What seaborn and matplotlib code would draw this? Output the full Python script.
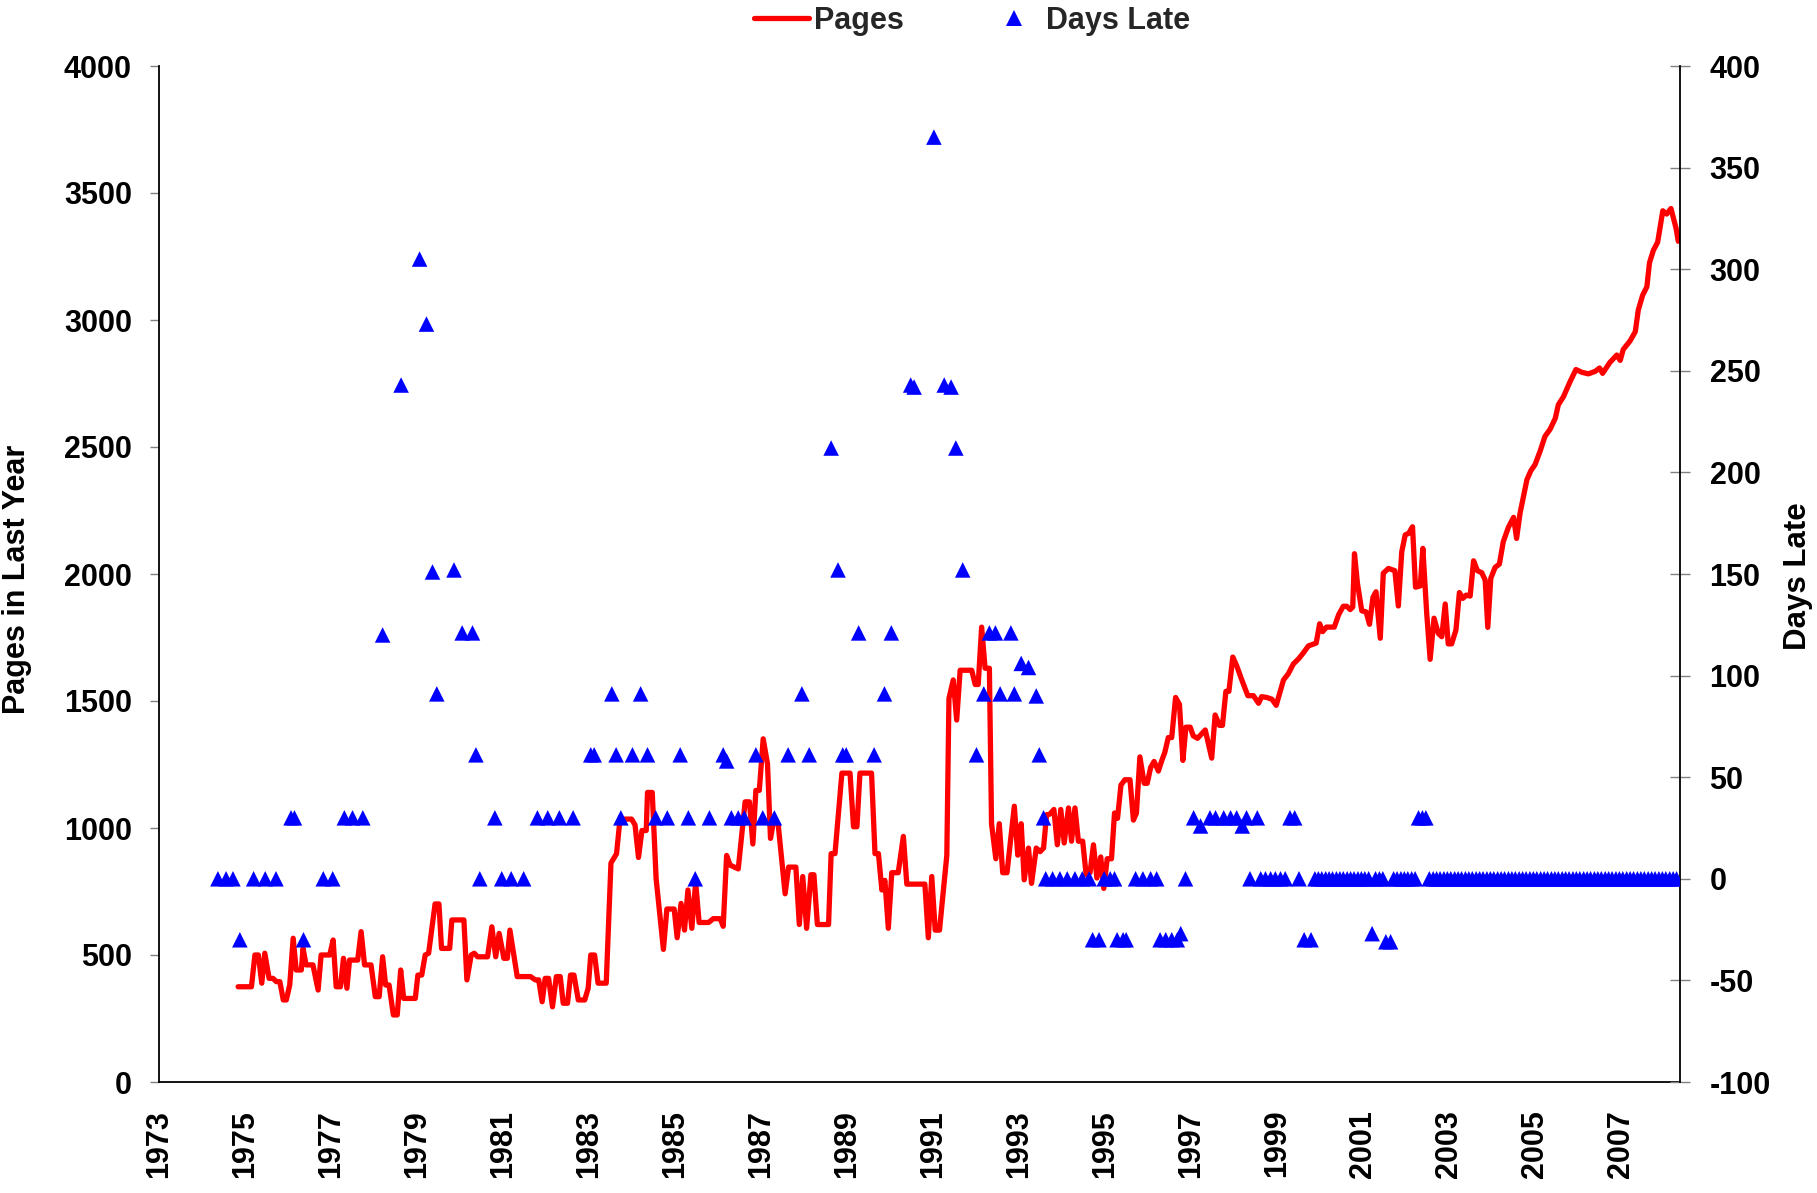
import matplotlib
matplotlib.use("Agg")
import matplotlib.pyplot as plt
from matplotlib.lines import Line2D
import numpy as np
import pandas as pd
import seaborn as sns

# ---------------- data: Pages in last year ----------------
pages_year_a = [1974.84, 1975.15, 1975.23, 1975.31, 1975.39, 1975.46, 1975.56, 1975.65, 1975.73, 1975.81,
                1975.89, 1975.96, 1976.04, 1976.12, 1976.19, 1976.31, 1976.35, 1976.42, 1976.58, 1976.70,
                1976.77, 1976.97, 1977.05, 1977.12, 1977.22, 1977.29, 1977.37, 1977.43, 1977.62, 1977.70,
                1977.78, 1977.93, 1978.03, 1978.12, 1978.20, 1978.27, 1978.35, 1978.45, 1978.54, 1978.62,
                1978.69, 1978.96, 1979.02, 1979.11, 1979.19, 1979.27, 1979.42, 1979.51, 1979.57, 1979.76,
                1979.81, 1980.09, 1980.16, 1980.26, 1980.33, 1980.41, 1980.64, 1980.74, 1980.83, 1980.91,
                1981.02, 1981.10, 1981.16, 1981.33, 1981.64, 1981.75, 1981.83, 1981.91, 1981.98, 1982.06,
                1982.15, 1982.24, 1982.33, 1982.40, 1982.50, 1982.57, 1982.65, 1982.75, 1982.90, 1982.98,
                1983.04, 1983.13, 1983.21, 1983.40]
pages_a = [375, 375, 500, 500, 389, 507, 408, 408, 395, 395,
           323, 323, 382, 566, 441, 441, 526, 461, 461, 362,
           500, 500, 559, 375, 375, 487, 369, 480, 480, 592,
           461, 461, 336, 336, 493, 382, 382, 264, 264, 441,
           329, 329, 421, 421, 500, 507, 701, 701, 526, 526,
           638, 638, 402, 500, 507, 493, 493, 611, 493, 585,
           487, 487, 598, 415, 415, 402, 402, 316, 408, 408,
           296, 415, 415, 310, 310, 421, 421, 323, 323, 369,
           500, 500, 389, 389]

pages_year_b = [1983.51, 1983.64, 1983.72, 1983.99, 1984.07, 1984.15, 1984.23, 1984.33, 1984.36, 1984.47,
                1984.56, 1984.73, 1984.81, 1984.98, 1985.05, 1985.14, 1985.22, 1985.30, 1985.39, 1985.48,
                1985.56, 1985.78, 1985.89, 1986.05, 1986.12, 1986.20, 1986.28, 1986.47, 1986.63, 1986.73,
                1986.81, 1986.88, 1986.96, 1987.05, 1987.15, 1987.22, 1987.30, 1987.40, 1987.56, 1987.64,
                1987.81, 1987.89, 1987.97, 1988.06, 1988.16, 1988.23, 1988.31, 1988.57, 1988.63, 1988.72,
                1988.88, 1989.07, 1989.15, 1989.23, 1989.30, 1989.57, 1989.65, 1989.73, 1989.81, 1989.88,
                1989.96, 1990.04, 1990.19, 1990.31, 1990.39, 1990.81, 1990.89, 1990.97, 1991.05, 1991.15,
                1991.32]
pages_b = [862, 899, 1035, 1035, 1012, 884, 990, 990, 1140, 1140,
           801, 522, 681, 681, 568, 703, 598, 756, 605, 786,
           628, 628, 643, 643, 613, 892, 854, 839, 1103, 1103,
           937, 1148, 1148, 1351, 1253, 959, 1035, 1012, 741, 846,
           846, 620, 809, 605, 816, 816, 620, 620, 899, 899,
           1216, 1216, 1005, 1005, 1216, 1216, 899, 899, 756, 794,
           605, 824, 824, 967, 779, 779, 568, 809, 598, 598,
           892]

pages_year_c = [1991.37, 1991.47, 1991.55, 1991.63, 1991.90, 1991.98, 1992.05, 1992.13, 1992.21, 1992.31,
                1992.36, 1992.46, 1992.54, 1992.62, 1992.72, 1992.89, 1992.97, 1993.05, 1993.12, 1993.22,
                1993.29, 1993.40, 1993.49, 1993.57, 1993.64, 1993.72, 1993.81, 1993.89, 1993.97, 1994.05,
                1994.15, 1994.22, 1994.30, 1994.38, 1994.48, 1994.56, 1994.65, 1994.73, 1994.81, 1994.90,
                1994.97, 1995.05, 1995.15, 1995.22, 1995.29, 1995.37, 1995.46, 1995.58, 1995.66, 1995.73,
                1995.81, 1995.91, 1995.98, 1996.06, 1996.14, 1996.24, 1996.32, 1996.39, 1996.47, 1996.55,
                1996.64, 1996.73, 1996.81, 1996.88, 1996.98, 1997.05, 1997.15, 1997.33, 1997.48, 1997.56,
                1997.66, 1997.73, 1997.81, 1997.88, 1997.97, 1998.06, 1998.18, 1998.32, 1998.45, 1998.57,
                1998.64, 1998.76, 1998.88, 1998.98, 1999.15, 1999.26, 1999.38, 1999.50, 1999.60, 1999.73,
                1999.91, 1999.99, 2000.06, 2000.15, 2000.33, 2000.43, 2000.54, 2000.62, 2000.70]
pages_c = [1510, 1583, 1425, 1621, 1621, 1565, 1565, 1791, 1629, 1629,
           1017, 879, 1017, 824, 824, 1086, 893, 1017, 796, 921,
           782, 921, 907, 921, 1052, 1055, 1073, 934, 1073, 941,
           1079, 948, 1079, 948, 948, 817, 824, 934, 803, 886,
           762, 879, 879, 1059, 1038, 1169, 1190, 1190, 1031, 1059,
           1280, 1176, 1176, 1238, 1262, 1224, 1266, 1298, 1356, 1356,
           1514, 1487, 1266, 1397, 1397, 1363, 1353, 1386, 1275, 1445,
           1404, 1404, 1538, 1538, 1673, 1639, 1583, 1521, 1521, 1491,
           1517, 1514, 1507, 1483, 1583, 1607, 1646, 1666, 1687, 1717,
           1728, 1804, 1773, 1791, 1791, 1839, 1873, 1873, 1860]

pages_year_d = [2000.76, 2000.80, 2000.87, 2000.97, 2001.07, 2001.15, 2001.23, 2001.30, 2001.40, 2001.47,
                2001.59, 2001.74, 2001.82, 2001.90, 2001.98, 2002.06, 2002.15, 2002.22, 2002.33, 2002.39,
                2002.48, 2002.56, 2002.65, 2002.75, 2002.83, 2002.91, 2002.98, 2003.06, 2003.16, 2003.24,
                2003.32, 2003.40, 2003.49, 2003.57, 2003.66, 2003.76, 2003.84, 2003.90, 2003.97, 2004.07,
                2004.17, 2004.26, 2004.38, 2004.50, 2004.57, 2004.65]
pages_d = [1870, 2080, 1962, 1855, 1851, 1802, 1908, 1930, 1747, 2003,
           2022, 2013, 1874, 2088, 2154, 2160, 2186, 1948, 1953, 2101,
           1845, 1664, 1826, 1766, 1753, 1882, 1725, 1725, 1780, 1927,
           1904, 1917, 1913, 2052, 2013, 2005, 1976, 1790, 1983, 2026,
           2039, 2127, 2184, 2223, 2140, 2239]

pages_year_e = [2004.81, 2004.90, 2005.00, 2005.12, 2005.23, 2005.35, 2005.47, 2005.54, 2005.66, 2005.81,
                2005.95, 2006.09, 2006.24, 2006.40, 2006.50, 2006.57, 2006.74, 2006.90, 2006.98, 2007.05,
                2007.21, 2007.33, 2007.40, 2007.50, 2007.60, 2007.66, 2007.75, 2007.85, 2007.97, 2008.06,
                2008.16, 2008.28, 2008.33]
pages_e = [2371, 2406, 2431, 2485, 2542, 2570, 2613, 2666, 2698, 2756,
           2805, 2794, 2788, 2798, 2811, 2790, 2833, 2862, 2841, 2884,
           2918, 2954, 3039, 3097, 3131, 3225, 3274, 3306, 3430, 3417,
           3439, 3360, 3310]

# ---------------- data: Days late ----------------
late_year_a = [1974.37, 1974.56, 1974.72, 1974.88, 1975.20, 1975.47, 1975.72, 1976.07, 1976.15, 1976.36,
               1976.82, 1977.04, 1977.31, 1977.50, 1977.74, 1978.20, 1978.63, 1979.06, 1979.22, 1979.36,
               1979.46, 1979.86, 1980.05, 1980.29, 1980.37, 1980.46, 1980.81, 1980.97, 1981.19, 1981.48,
               1981.80, 1982.04, 1982.31, 1982.63, 1983.04, 1983.12, 1983.53, 1983.63, 1983.74, 1984.01,
               1984.20, 1984.36, 1984.55, 1984.82, 1985.12, 1985.31, 1985.47, 1985.80, 1986.12, 1986.20,
               1986.31, 1986.47, 1986.61, 1986.88, 1987.04, 1987.31, 1987.63, 1987.95, 1988.12, 1988.63,
               1988.79, 1988.90, 1988.98, 1989.27, 1989.63, 1989.87, 1990.03, 1990.48, 1990.56, 1991.02,
               1991.26, 1991.42, 1991.53, 1991.69, 1992.01, 1992.18, 1992.31, 1992.45, 1992.56, 1992.81,
               1992.89, 1993.05, 1993.22, 1993.40, 1993.47, 1993.57]
late_a = [0, 0, 0, -30, 0, 0, 0, 30, 30, -30,
          0, 0, 30, 30, 30, 120, 243, 305, 273, 151,
          91, 152, 121, 121, 61, 0, 30, 0, 0, 0,
          30, 30, 30, 30, 61, 61, 91, 61, 30, 61,
          91, 61, 30, 30, 61, 30, 0, 30, 61, 58,
          30, 30, 30, 61, 30, 30, 61, 91, 61, 212,
          152, 61, 61, 121, 61, 91, 121, 243, 242, 365,
          243, 242, 212, 152, 61, 91, 121, 121, 91, 121,
          91, 106, 104, 90, 61, 30]

late_year_b = [1993.62, 1993.78, 1993.95, 1994.12, 1994.30, 1994.47, 1994.63, 1994.71, 1994.86, 1994.98,
               1995.12, 1995.22, 1995.28, 1995.42, 1995.49, 1995.71, 1995.88, 1996.06, 1996.20, 1996.28,
               1996.41, 1996.55, 1996.68, 1996.76, 1996.87, 1997.06, 1997.22, 1997.44, 1997.57, 1997.76,
               1997.92, 1998.06, 1998.19, 1998.29, 1998.54, 1998.37, 1998.62, 1998.73, 1998.85, 1998.96,
               1999.08, 1999.19, 1999.30, 1999.41, 1999.51, 1999.63, 1999.79]
late_b = [0, 0, 0, 0, 0, 0, 0, -30, -30, 0,
          0, 0, -30, -30, -30, 0, 0, 0, 0, -30,
          -30, -30, -30, -27, 0, 30, 26, 30, 30, 30,
          30, 30, 26, 30, 30, 0, 0, 0, 0, 0,
          0, 0, 30, 30, 0, -30, -30]

late_year_c = [1999.88, 1999.96, 2000.04, 2000.13, 2000.21, 2000.29, 2000.38, 2000.46, 2000.54, 2000.63,
               2000.71, 2000.79, 2000.88, 2000.96, 2001.04, 2001.13, 2001.21, 2001.29, 2001.38, 2001.46,
               2001.53, 2001.64, 2001.71, 2001.79, 2001.88, 2001.96, 2002.04, 2002.13, 2002.21, 2002.29,
               2002.38, 2002.46]
late_c = [0, 0, 0, 0, 0, 0, 0, 0, 0, 0,
          0, 0, 0, 0, 0, 0, -27, 0, 0, 0,
          -31, -31, 0, 0, 0, 0, 0, 0, 0, 30,
          30, 30]

late_year_d = [2002.54, 2002.63, 2002.71, 2002.79, 2002.88, 2002.96,
               2003.04, 2003.13, 2003.21, 2003.29, 2003.38, 2003.46, 2003.54, 2003.63, 2003.71, 2003.79, 2003.88, 2003.96,
               2004.04, 2004.13, 2004.21, 2004.29, 2004.38, 2004.46, 2004.54, 2004.63, 2004.71, 2004.79, 2004.88, 2004.96,
               2005.04, 2005.13, 2005.21, 2005.29, 2005.38, 2005.46, 2005.54, 2005.63, 2005.71, 2005.79, 2005.88, 2005.96,
               2006.04, 2006.13, 2006.21, 2006.29, 2006.38, 2006.46, 2006.54, 2006.63, 2006.71, 2006.79, 2006.88, 2006.96,
               2007.04, 2007.13, 2007.21, 2007.29, 2007.38, 2007.46, 2007.54, 2007.63, 2007.71, 2007.79, 2007.88, 2007.96,
               2008.04, 2008.13, 2008.21, 2008.29]
late_d = [0] * len(late_year_d)

x_tick_years = list(range(1973, 2009))
x_tick_labels = [str(y) if y % 2 == 1 else "" for y in x_tick_years]
left_ticks = [0, 500, 1000, 1500, 2000, 2500, 3000, 3500, 4000]
right_ticks = [-100, -50, 0, 50, 100, 150, 200, 250, 300, 350, 400]

pages_df = pd.DataFrame({
    "year": pages_year_a + pages_year_b + pages_year_c + pages_year_d + pages_year_e,
    "pages": pages_a + pages_b + pages_c + pages_d + pages_e,
})
late_df = pd.DataFrame({
    "year": late_year_a + late_year_b + late_year_c + late_year_d,
    "days": late_a + late_b + late_c + late_d,
})

# ---------------- styling ----------------
sns.set_theme(style="white")
plt.rcParams["font.family"] = ["Liberation Sans", "DejaVu Sans"]
plt.rcParams["font.weight"] = "bold"
plt.rcParams["axes.labelweight"] = "bold"

W, H = 1817, 1193
fig = plt.figure(figsize=(W / 100, H / 100), dpi=100)
x0, x1, yb, yt = 159, 1680, 1082, 66
ax = fig.add_axes([x0 / W, 1 - yb / H, (x1 - x0) / W, (yb - yt) / H])

RED = "#FF0000"
BLUE = "#0000FF"
GRAY = "#808080"

sns.lineplot(data=pages_df, x="year", y="pages", ax=ax, color=RED, linewidth=3.8,
             sort=False, estimator=None, legend=False)
for ln in ax.get_lines():
    ln.set_solid_joinstyle("round")
    ln.set_solid_capstyle("round")

ax2 = ax.twinx()
sns.scatterplot(data=late_df, x="year", y="days", ax=ax2, marker="^", s=125,
                color=BLUE, edgecolor="none", linewidth=0, legend=False, zorder=5)

ax.set_xlim(1973, 2008.37)
ax.set_ylim(0, 4000)
ax2.set_ylim(-100, 400)

ax.set_xticks(x_tick_years)
ax.set_xticklabels(x_tick_labels, rotation=90, fontsize=22, fontweight="bold")
ax.set_yticks(left_ticks)
ax.set_yticklabels([str(v) for v in left_ticks], fontsize=22, fontweight="bold")
ax2.set_yticks(right_ticks)
ax2.set_yticklabels([str(v) for v in right_ticks], fontsize=22, fontweight="bold")

ax.tick_params(axis="x", direction="in", length=7, width=1, color=GRAY, pad=20, labelcolor="black")
ax.tick_params(axis="y", direction="out", length=6.5, width=1, color=GRAY, pad=13, labelcolor="black",
               left=True)
ax2.tick_params(axis="y", direction="inout", length=13.7, width=1, color=GRAY, pad=14.4,
                labelcolor="black", right=True)

ax.set_xlabel("")
ax.set_ylabel("")
ax2.set_ylabel("")
ax.grid(False)
ax2.grid(False)

for a in (ax, ax2):
    a.spines["top"].set_visible(False)
ax.spines["right"].set_visible(False)
ax2.spines["left"].set_visible(False)
ax2.spines["bottom"].set_visible(False)
ax.spines["left"].set_color("black")
ax.spines["bottom"].set_color("black")
ax2.spines["right"].set_color("black")
for s in ("left", "bottom"):
    ax.spines[s].set_linewidth(1.3)
ax2.spines["right"].set_linewidth(1.3)

fig.text(17 / W, 1 - 579 / H, "Pages in Last Year", rotation=90, ha="center", va="center",
         fontsize=22, fontweight="bold", color="black")
fig.text(1798 / W, 1 - 576 / H, "Days Late", rotation=90, ha="center", va="center",
         fontsize=22.5, fontweight="bold", color="black")

handles = [Line2D([], [], color=RED, linewidth=3.8),
           Line2D([], [], color=BLUE, marker="^", linestyle="none", markersize=11,
                  markeredgewidth=0)]
fig.legend(handles, ["Pages", "Days Late"], loc="upper center", bbox_to_anchor=(0.535, 1.0),
           ncol=2, frameon=False, handlelength=1.8, handletextpad=0.15, columnspacing=2.7,
           borderpad=0.2, borderaxespad=0.0, prop={"size": 22, "weight": "bold"})

fig.savefig("out.png", dpi=100, facecolor="white")
